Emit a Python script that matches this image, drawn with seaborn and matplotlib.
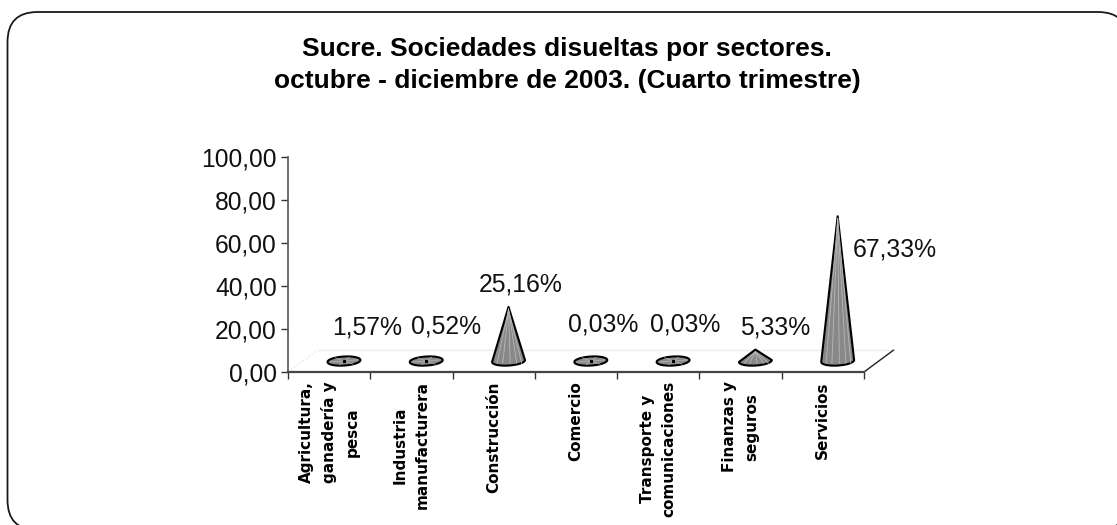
import matplotlib
matplotlib.use("Agg")
import matplotlib.pyplot as plt
import seaborn as sns
import numpy as np
from matplotlib.patches import FancyBboxPatch, Polygon

# data
sectores = ["Agricultura,\nganadería y\npesca", "Industria\nmanufacturera", "Construcción",
            "Comercio", "Transporte y\ncomunicaciones", "Finanzas y\nseguros", "Servicios"]
valores = [1.57, 0.52, 25.16, 0.03, 0.03, 5.33, 67.33]
etiquetas = ["1,57%", "0,52%", "25,16%", "0,03%", "0,03%", "5,33%", "67,33%"]
y_ticks = [0, 20, 40, 60, 80, 100]
y_labels = ["0,00", "20,00", "40,00", "60,00", "80,00", "100,00"]

# where each label sits relative to its cone, in points
label_dx = [17, 14, 9, 9, 9, 14, 41]
label_dy = [22, 24, 16, 26, 26, 16, -24]

titulo = "Sucre. Sociedades disueltas por sectores.\noctubre - diciembre de 2003. (Cuarto trimestre)"

sns.set_theme(style="white")
plt.rcParams['font.family'] = ['Liberation Sans', 'DejaVu Sans']

W, H = 1117, 525
fig = plt.figure(figsize=(W / 100, H / 100), dpi=100)

# background layer in pixels, the rounded frame runs off the right and bottom
bg = fig.add_axes([0, 0, 1, 1])
bg.set_xlim(0, W)
bg.set_ylim(H, 0)
bg.axis("off")
bg.add_patch(FancyBboxPatch((7.5, 12), 1128 - 7.5, 530 - 12, boxstyle="round,pad=0,rounding_size=30",
                            fc="white", ec="#1a1a1a", lw=1.3))
bg.text(567, 65, titulo, ha="center", va="center", fontsize=19, fontweight="bold",
        linespacing=1.41, color="black")

ax = fig.add_axes([288 / W, 1 - 372 / H, (864 - 288) / W, (372 - 157) / H])
ax.patch.set_alpha(0)
sns.barplot(x=sectores, y=valores, ax=ax, color="#808080", width=0.4, errorbar=None)
ax.set_xlim(-0.5, 6.5)
ax.set_ylim(0, 100)

# floor of the 3d plot, in data units
dx, dy = 0.36, 10.2
ax.plot([-0.5, -0.5 + dx], [0, dy], color="#e4e4e4", lw=1, ls=":", clip_on=False)
ax.plot([-0.5 + dx, 6.5 + dx], [dy, dy], color="#ececec", lw=1, clip_on=False)
ax.plot([6.5, 6.5 + dx], [0, dy], color="#222222", lw=1, clip_on=False)

# turn the bars into cones
for bar in ax.patches:
    bar.set_visible(False)
    h = bar.get_height()
    cx = bar.get_x() + bar.get_width() / 2 + dx / 2
    base = dy / 2
    rx = bar.get_width() / 2
    ry = 2.1
    top = base + h
    tilt = 0.45  # base ellipse leans up to the right
    if h < 3:
        th = np.linspace(0, 2 * np.pi, 60)
        ell = list(zip(cx + rx * np.cos(th), base + ry * np.sin(th) + tilt * np.cos(th)))
        ax.add_patch(Polygon(ell, closed=True, fc="#8c8c8c", ec="black", lw=1.5, clip_on=False, zorder=3))
        for a in [0.3, 1.2, 2.2, 3.4, 4.4, 5.4]:
            ax.plot([cx, cx + 0.9 * rx * np.cos(a)], [base, base + 0.9 * ry * np.sin(a)],
                    color="#b4b4b4", lw=0.5, zorder=4)
        ax.plot([cx], [base], marker="s", ms=1.3, color="black", zorder=5)
    else:
        th = np.linspace(np.pi, 2 * np.pi, 30)
        outline = [(cx, top)] + list(zip(cx + rx * np.cos(th), base + ry * np.sin(th) + tilt * np.cos(th)))
        ax.add_patch(Polygon(outline, closed=True, fc="#888888", ec="black", lw=1.5, joinstyle="round",
                             clip_on=False, zorder=3))
        for f in [-0.7, -0.35, 0.1, 0.5, 0.8]:
            ax.plot([cx, cx + f * rx], [top - 1, base - ry * 0.5], color="#b8b8b8", lw=0.6, zorder=4)

for bar, txt, ox, oy in zip(ax.patches, etiquetas, label_dx, label_dy):
    cx = bar.get_x() + bar.get_width() / 2 + dx / 2
    ax.annotate(txt, (cx, dy / 2 + bar.get_height()), xytext=(ox, oy), textcoords="offset points",
                ha="center", va="center", fontsize=17.8, color="#111111", annotation_clip=False)

# axes: ticks sit between the categories
ax.set_xticks(np.arange(-0.5, 7, 1))
ax.set_xticklabels([])
ax.set_xticks(range(7), labels=sectores, minor=True)
ax.tick_params(axis="x", which="major", length=5, width=1, color="#333333", bottom=True)
ax.tick_params(axis="x", which="minor", length=0, pad=6.5)
for lab in ax.get_xticklabels(minor=True):
    lab.set(rotation=90, va="top", ha="center", fontsize=11, fontweight="bold",
            family="DejaVu Sans", linespacing=1.57, multialignment="center", color="black")
ax.set_yticks(y_ticks, labels=y_labels)
ax.tick_params(axis="y", length=5, width=1, color="#333333", left=True, pad=3, labelsize=17.7, labelcolor="#111111")
ax.grid(False)
sns.despine(ax=ax)
ax.spines["left"].set(color="#555555", lw=1.2)
ax.spines["bottom"].set(color="#444444", lw=1.6)
ax.set_xlabel("")

fig.savefig("out.png", dpi=100)
